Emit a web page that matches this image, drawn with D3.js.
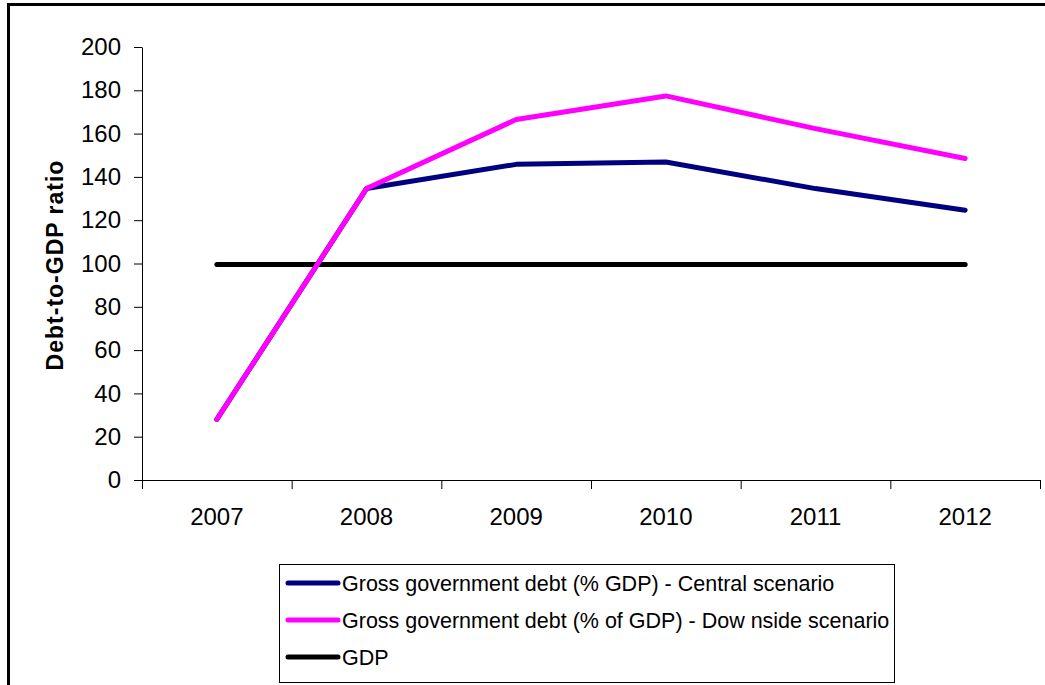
<!DOCTYPE html>
<html>
<head>
<meta charset="utf-8">
<script src="https://cdn.jsdelivr.net/npm/d3@7"></script>
<style>
  body { margin: 0; background: #fff; }
  svg { font-family: "Liberation Sans", Arial, sans-serif; }
</style>
</head>
<body>
<div id="chart"></div>
<script>
// data
var years = ["2007", "2008", "2009", "2010", "2011", "2012"];
var central = [28, 134.6, 145.8, 146.9, 134.6, 124.6];
var downside = [28, 134.6, 166.5, 177.4, 162.3, 148.5];
var gdp = [99.5, 99.5, 99.5, 99.5, 99.5, 99.5];
var yTicks = [0, 20, 40, 60, 80, 100, 120, 140, 160, 180, 200];
var seriesNames = [
    "Gross government debt (% GDP) - Central scenario",
    "Gross government debt (% of GDP) - Dow nside scenario",
    "GDP"
];
var seriesColors = ["#000080", "#ff00ff", "#000000"];

var W = 1045, H = 685;
var margin = { top: 47, right: 5, bottom: 205, left: 142 },
    width = 898,
    height = 433;

var svg = d3.select("#chart")
    .append("svg")
    .attr("width", W)
    .attr("height", H);

// outer frame (runs off right and bottom edges)
svg.append("rect")
    .attr("x", 8.5)
    .attr("y", 4.5)
    .attr("width", 1060)
    .attr("height", 700)
    .attr("fill", "none")
    .attr("stroke", "#000")
    .attr("stroke-width", 3);

var g = svg.append("g")
    .attr("transform", "translate(" + margin.left + "," + margin.top + ")");

var x = d3.scaleBand()
    .domain(years)
    .range([0, width]);

var y = d3.scaleLinear()
    .domain([0, 200])
    .range([height, 0]);

// Y axis
var yAxis = g.append("g")
    .call(d3.axisLeft(y).tickValues(yTicks).tickSize(8).tickSizeOuter(0).tickPadding(13));
yAxis.selectAll("text").style("font-size", "24px").attr("fill", "#000");
yAxis.selectAll("line, path").attr("stroke", "#000");

// X axis with ticks between categories
var xAxis = g.append("g")
    .attr("transform", "translate(0," + height + ")")
    .call(d3.axisBottom(x).tickSize(0).tickSizeOuter(0).tickPadding(28));
xAxis.selectAll("text").style("font-size", "24px").attr("fill", "#000");
xAxis.select("path").attr("stroke", "#000");
xAxis.selectAll(".sep")
    .data(years.concat(["end"]))
    .enter()
    .append("line")
    .attr("class", "sep")
    .attr("x1", function (d, i) { return i * x.bandwidth() + 0.5; })
    .attr("x2", function (d, i) { return i * x.bandwidth() + 0.5; })
    .attr("y1", 0)
    .attr("y2", 9)
    .attr("stroke", "#000");

// Lines
var line = d3.line()
    .x(function (d, i) { return x(years[i]) + x.bandwidth() / 2; })
    .y(function (d) { return y(d); });

var allSeries = [gdp, central, downside];
var allColors = [seriesColors[2], seriesColors[0], seriesColors[1]];
allSeries.forEach(function (s, k) {
    g.append("path")
        .datum(s)
        .attr("d", line)
        .attr("fill", "none")
        .attr("stroke", allColors[k])
        .attr("stroke-width", 5)
        .attr("stroke-linecap", "round")
        .attr("stroke-linejoin", "round");
});

// Y axis title
svg.append("text")
    .attr("transform", "translate(63,265) rotate(-90)")
    .attr("text-anchor", "middle")
    .style("font-size", "23px")
    .style("font-weight", "bold")
    .style("letter-spacing", "1px")
    .text("Debt-to-GDP ratio");

// Legend
var legend = svg.append("g");
legend.append("rect")
    .attr("x", 279.5)
    .attr("y", 564.5)
    .attr("width", 615)
    .attr("height", 118)
    .attr("fill", "#fff")
    .attr("stroke", "#000")
    .attr("stroke-width", 1);

var rows = legend.selectAll(".row")
    .data(seriesNames)
    .enter()
    .append("g")
    .attr("transform", function (d, i) { return "translate(0," + (583 + i * 37) + ")"; });
rows.append("line")
    .attr("x1", 288).attr("x2", 338)
    .attr("y1", 0).attr("y2", 0)
    .attr("stroke", function (d, i) { return seriesColors[i]; })
    .attr("stroke-width", 5)
    .attr("stroke-linecap", "round");
rows.append("text")
    .attr("x", 342)
    .attr("y", 8)
    .style("font-size", "21.5px")
    .text(function (d) { return d; });
</script>
</body>
</html>
